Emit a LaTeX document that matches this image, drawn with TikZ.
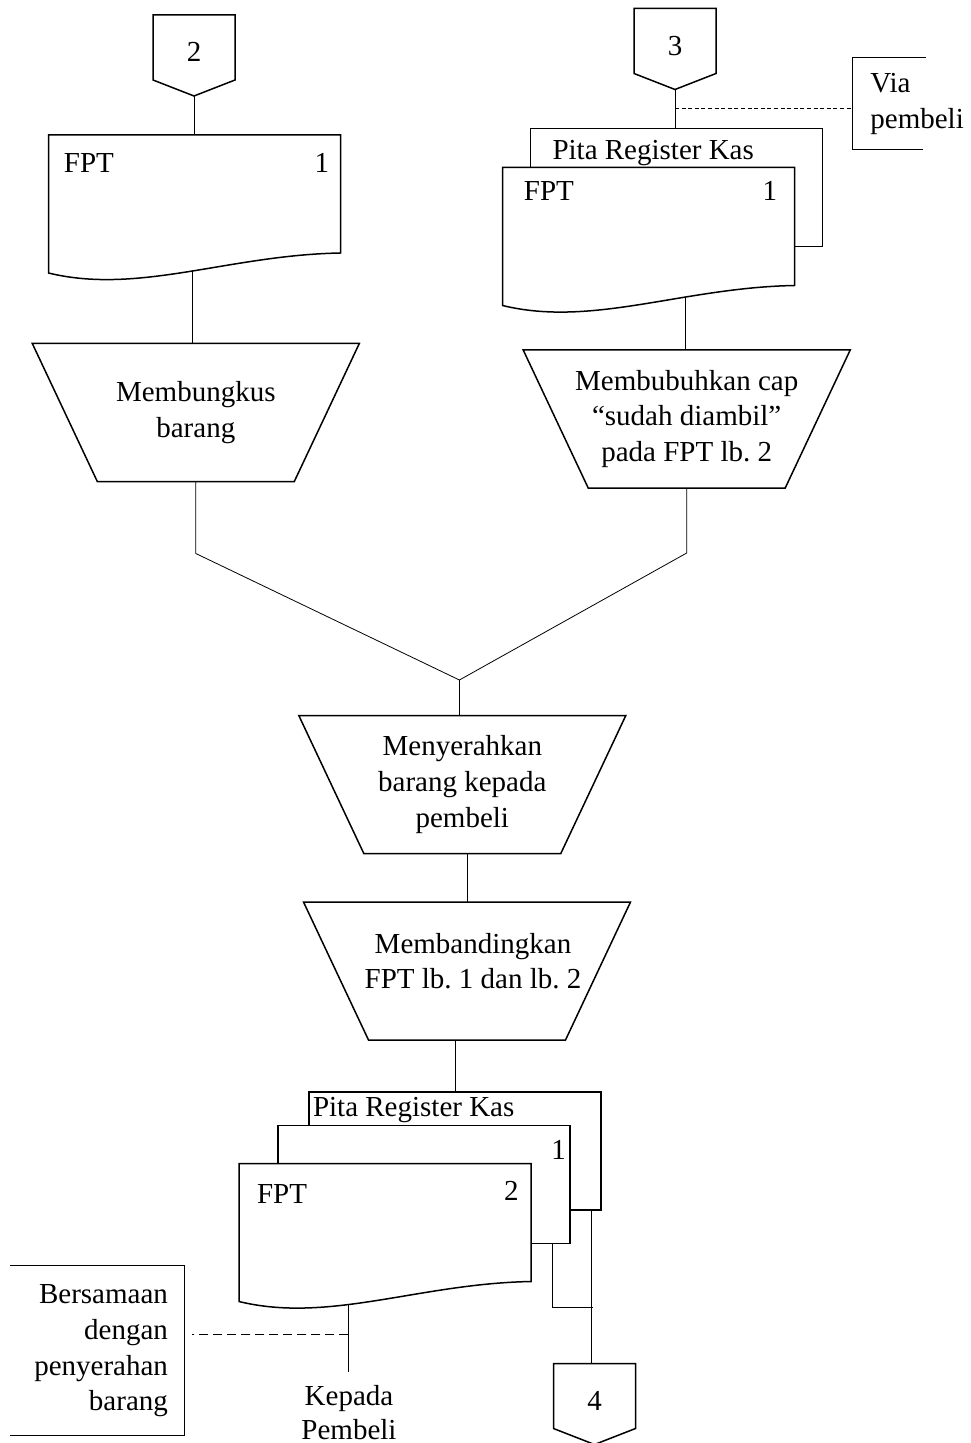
\documentclass[tikz,border=0pt]{standalone}
\usepackage{fontspec}
\setmainfont{Liberation Serif}

\tikzset{
  shapeline/.style={draw, line width=0.75pt},
  link/.style={draw, line width=0.4pt},
  dashfine/.style={draw, line width=0.4pt, dash pattern=on 2pt off 1.3pt},
  dashwide/.style={draw, line width=0.4pt, dash pattern=on 4.5pt off 2.5pt},
  proses/.style={rectangle, minimum width=163.5pt, minimum height=69pt,
    align=center, inner sep=0pt, outer sep=0pt},
  lembar/.style={rectangle, minimum width=146pt, minimum height=59pt, inner sep=0pt, outer sep=0pt},
  offpage/.style={rectangle, minimum width=41pt, minimum height=32.5pt, inner sep=0pt,
    outer sep=0pt, text height=14.5pt, text depth=0pt},
  tulisan/.style={inner sep=0pt, anchor=base west},
}

% document with wavy lower edge: #1 node, #2 position of the exit point
\newcommand{\gelombang}[2]{%
  \draw[shapeline, fill=white] (#1.south west) -- ++(0pt,-10pt)
    .. controls +(45pt,-11pt) and +(-56pt,-1pt) .. (#1.south east)
    coordinate[pos=#2] (#1-out)
    -- (#1.north east) -- (#1.north west) -- cycle;}

% off-page connector pointing down
\newcommand{\offpg}[1]{%
  \draw[shapeline] (#1.south west) -- (#1.north west) -- (#1.north east) -- (#1.south east)
    -- ([yshift=-8pt]#1.south) coordinate (#1-tip) -- cycle;}

% manual operation, wide side on top
\newcommand{\corong}[1]{%
  \draw[shapeline] (#1.north west) -- (#1.north east) -- ([xshift=-32.5pt]#1.south east)
    -- ([xshift=32.5pt]#1.south west) -- cycle;}

\begin{document}
\begin{tikzpicture}[x=0.5pt, y=-0.5pt, font=\fontsize{14.5pt}{17.8pt}\selectfont]
    \useasboundingbox (0,0) rectangle (970,1443);

    % off-page connectors
    \node[offpage] (con2) at (194,47.5) {2};
    \node[offpage] (con3) at (675,41) {3};
    \node[offpage] (con4) at (594.5,1396) {4};
    \offpg{con2} \offpg{con3} \offpg{con4}

    % FPT 1 (left)
    \node[lembar] (fptA) at (194.5,194) {};
    \gelombang{fptA}{0.52}
    \node[tulisan] at ([shift={(7.5pt,-19pt)}]fptA.north west) {FPT};
    \node[tulisan, anchor=base east] at ([shift={(-5.5pt,-19pt)}]fptA.north east) {1};

    % Pita Register Kas + FPT 1 (right)
    \node[lembar, shapeline, fill=white] (pitaB) at (676.5,187.5) {};
    \node[tulisan] at ([shift={(10.8pt,-15.3pt)}]pitaB.north west) {Pita Register Kas};
    \node[lembar] (fptB) at (648.5,226.5) {};
    \gelombang{fptB}{0.655}
    \node[tulisan] at ([shift={(10.5pt,-16.3pt)}]fptB.north west) {FPT};
    \node[tulisan, anchor=base east] at ([shift={(-8.5pt,-16.3pt)}]fptB.north east) {1};

    % processes
    \node[proses] (bungkus) at (195.8,412.5) {Membungkus\\barang};
    \node[proses] (bubuh) at (686.7,419) {Membubuhkan cap\\“sudah diambil”\\pada FPT lb.~2};
    \node[proses] (serah) at (462.3,784.5) {Menyerahkan\\barang kepada\\pembeli};
    \node[proses, label={[align=center, xshift=3pt, yshift=5pt]center:{Membandingkan\\FPT lb.~1 dan lb.~2}}]
        (banding) at (467,971) {};
    \corong{bungkus} \corong{bubuh} \corong{serah} \corong{banding}

    % Pita Register Kas + FPT 1 + FPT 2 (bottom)
    \node[lembar, shapeline, fill=white] (pitaC) at (455,1151) {};
    \node[tulisan] at ([shift={(1.8pt,-12.2pt)}]pitaC.north west) {Pita Register Kas};
    \node[lembar, shapeline, fill=white] (lembarC) at (424,1184.5) {};
    \node[tulisan, anchor=base east] at ([shift={(-1.9pt,-17pt)}]lembarC.north east) {1};
    \node[lembar] (fptC) at (385,1222.5) {};
    \gelombang{fptC}{0.4}
    \node[tulisan] at ([shift={(8.8pt,-20pt)}]fptC.north west) {FPT};
    \node[tulisan, anchor=base east] at ([shift={(-6pt,-18.3pt)}]fptC.north east) {2};

    % notes
    \node[align=left, inner sep=0pt, anchor=west] (via) at (870,104) {Via\\pembeli};
    \node[align=right, inner sep=0pt, anchor=east] (samaan) at (168.3,1351) {Bersamaan\\dengan\\penyerahan\\barang};
    \node[align=center, inner sep=6.5pt, anchor=north, font=\fontsize{14.5pt}{17pt}\selectfont]
        (kepada) at (349,1372) {Kepada\\Pembeli};
    \draw[link] (925.7,57.3) -- (852.3,57.3) -- (852.3,149) -- (922.7,149);
    \draw[link] (10,1265.7) -- (184,1265.7) -- (184,1435.7) -- (10,1435.7);

    % flow lines
    \coordinate (temu) at (459.4,680);
    \coordinate (turunC) at ([xshift=-4.65pt]pitaC.south east);
    \draw[link] (con2-tip) -- (con2-tip |- fptA.north);
    \draw[link] (con3-tip) -- (con3-tip |- pitaB.north);
    \draw[dashfine] ([yshift=-9.4pt]con3-tip) -- ++(177.3,0);
    \draw[link] (fptA-out) -- (fptA-out |- bungkus.north);
    \draw[link] (fptB-out) -- (fptB-out |- bubuh.north);
    \draw[link] (bungkus.south) -- ++(0,72) -- (temu);
    \draw[link] (bubuh.south) -- ++(0,65) -- (temu);
    \draw[link] (temu) -- (temu |- serah.north);
    \draw[link] (banding.north |- serah.south) -- (banding.north);
    \draw[link] (pitaC.north |- banding.south) -- (pitaC.north);
    \draw[link] (turunC) -- (turunC |- con4.north);
    \draw[link] ([xshift=-8.85pt]lembarC.south east) -- ++(0,63.7) -- ++(41,0);
    \draw[link] (fptC-out) -- (fptC-out |- kepada.north);
    \draw[dashwide] ([yshift=-15pt]fptC-out) -- ++(-156.7,0);
\end{tikzpicture}
\end{document}
